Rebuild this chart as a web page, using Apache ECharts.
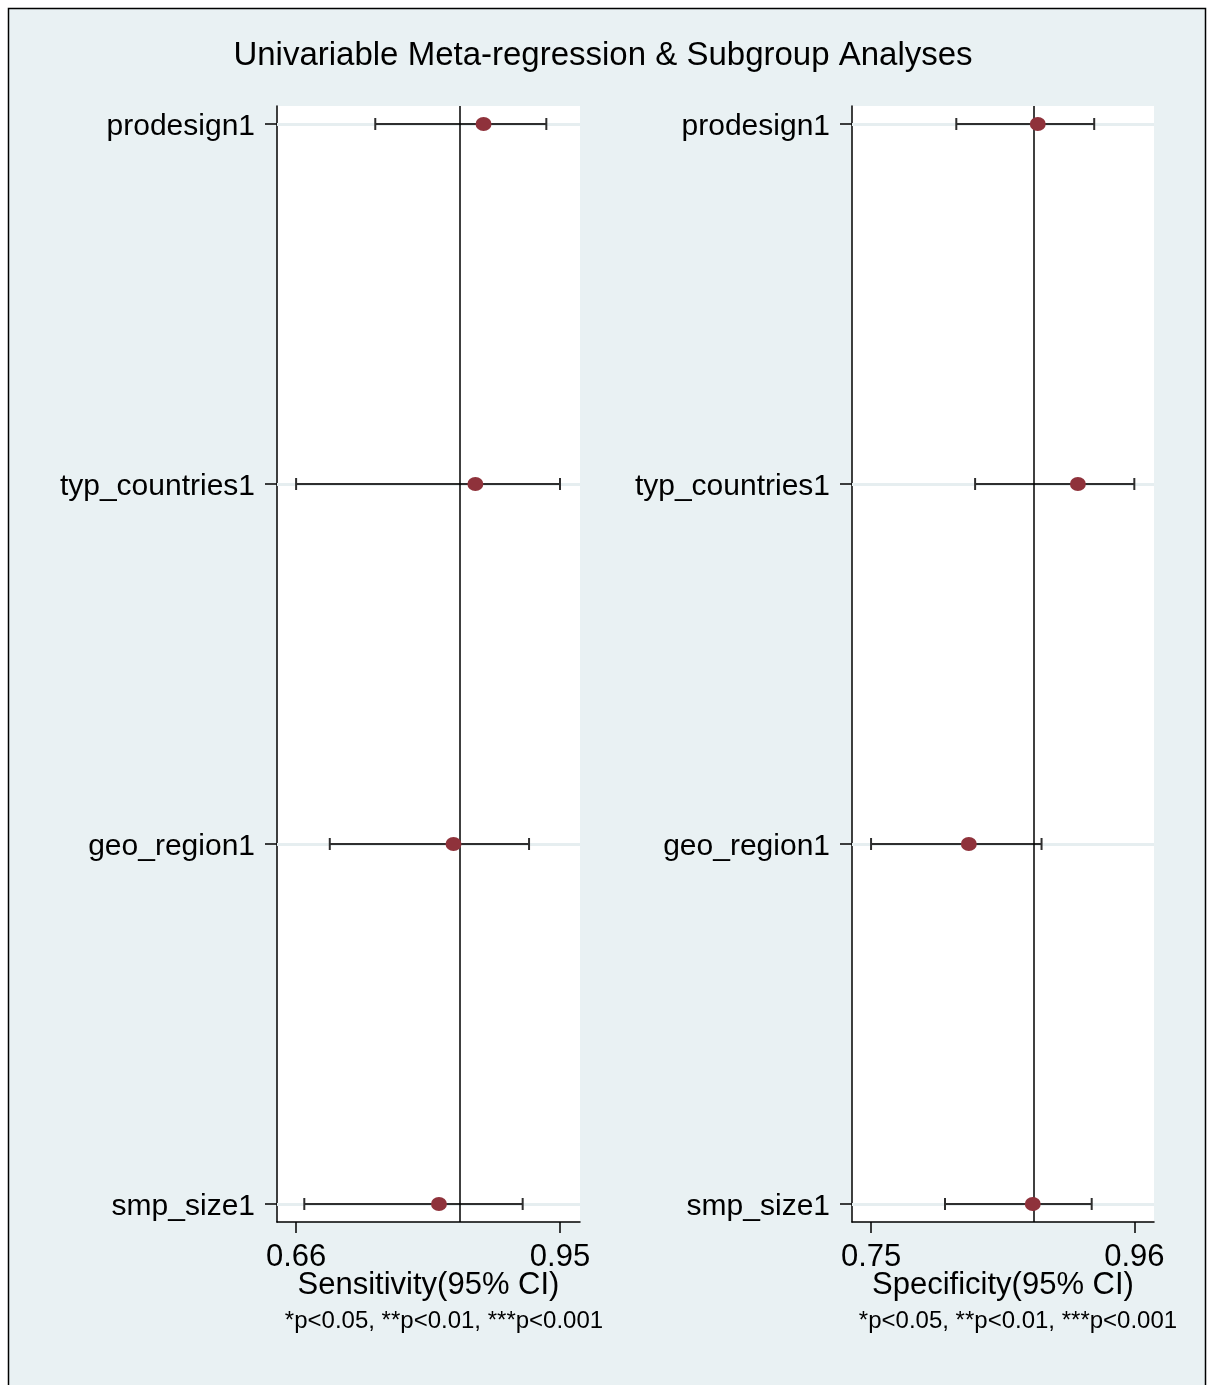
<!DOCTYPE html>
<html><head><meta charset="utf-8">
<script src="https://cdn.jsdelivr.net/npm/echarts@6/dist/echarts.min.js"></script>
<style>html,body{margin:0;padding:0;background:#fff}#c{width:1208px;height:1385px}</style>
</head><body><div id="c"></div>
<script>
const categories = ['prodesign1', 'typ_countries1', 'geo_region1', 'smp_size1'];
const sensPoint = [0.866, 0.857, 0.833, 0.817];
const sensLower = [0.747, 0.660, 0.697, 0.669];
const sensUpper = [0.935, 0.950, 0.916, 0.909];
const sensRef = 0.84;
const specPoint = [0.883, 0.915, 0.828, 0.879];
const specLower = [0.818, 0.833, 0.750, 0.809];
const specUpper = [0.928, 0.960, 0.886, 0.926];
const specRef = 0.88;
const sensTicks = [0.66, 0.95];
const specTicks = [0.75, 0.96];
const sensRange = [0.639, 0.972];
const specRange = [0.7348, 0.9757];
const titleText = 'Univariable Meta-regression & Subgroup Analyses';
const sensName = 'Sensitivity(95% CI)';
const specName = 'Specificity(95% CI)';
const footnote = '*p<0.05, **p<0.01, ***p<0.001';

const FONT = '"Liberation Sans", Arial, sans-serif';
const rows = categories.map((_, i) => i);

function xAxisOf(gi, range, ticks, name) {
  return {
    type: 'value', gridIndex: gi, min: range[0], max: range[1],
    axisLine: { show: true, onZero: false, lineStyle: { color: '#000', width: 1.5 } },
    axisTick: { show: true, customValues: ticks, length: 11, lineStyle: { color: '#000', width: 1.5 } },
    axisLabel: { customValues: ticks, formatter: v => v.toFixed(2), color: '#000', fontSize: 31, fontFamily: FONT, margin: 20 },
    splitLine: { show: false },
    name: name, nameLocation: 'middle', nameGap: 48, nameMoveOverlap: false,
    nameTextStyle: { color: '#000', fontSize: 31, fontFamily: FONT }
  };
}
function yAxisOf(gi) {
  return {
    type: 'value', gridIndex: gi, inverse: true, min: -0.05, max: 3.05,
    axisLine: { show: true, onZero: false, lineStyle: { color: '#000', width: 1.5 } },
    axisTick: { show: true, customValues: rows, length: 12, lineStyle: { color: '#000', width: 1.5 } },
    axisLabel: {
      customValues: rows, margin: 22,
      formatter: v => '{c|' + categories[Math.round(v)] + '}',
      rich: { c: { color: '#000', fontSize: 30, fontFamily: FONT, padding: [6, 0, 0, 0] } }
    },
    splitLine: { show: false }
  };
}
function seriesOf(gi, point, lower, upper, ref) {
  return [
    {
      type: 'custom', xAxisIndex: gi, yAxisIndex: gi, z: 3,
      data: rows.map(i => [i, lower[i], upper[i]]),
      renderItem: function (params, api) {
        const y = api.value(0);
        const a = api.coord([api.value(1), y]);
        const b = api.coord([api.value(2), y]);
        const h = 6;
        const st = { stroke: '#2e2e2e', lineWidth: 2 };
        return { type: 'group', children: [
          { type: 'line', shape: { x1: a[0], y1: a[1], x2: b[0], y2: b[1] }, style: st },
          { type: 'line', shape: { x1: a[0], y1: a[1] - h, x2: a[0], y2: a[1] + h }, style: st },
          { type: 'line', shape: { x1: b[0], y1: b[1] - h, x2: b[0], y2: b[1] + h }, style: st }
        ] };
      },
      markLine: {
        silent: true, symbol: 'none', label: { show: false }, z: 1,
        lineStyle: { color: '#e6eef0', width: 3, type: 'solid' },
        data: rows.map(i => ({ yAxis: i }))
      }
    },
    {
      type: 'scatter', xAxisIndex: gi, yAxisIndex: gi, z: 5,
      symbol: 'circle', symbolSize: [16, 14],
      itemStyle: { color: '#8f323b', opacity: 1 },
      data: rows.map(i => [point[i], i]),
      markLine: {
        silent: true, symbol: 'none', label: { show: false },
        lineStyle: { color: '#000', width: 1.5, type: 'solid' },
        data: [{ xAxis: ref }]
      }
    }
  ];
}

const chart = echarts.init(document.getElementById('c'));
chart.setOption({
  backgroundColor: '#fff',
  animation: false,
  graphic: [
    { type: 'rect', z: -10, shape: { x: 8.5, y: 8.5, width: 1197, height: 1400 }, style: { fill: '#e9f1f3', stroke: '#000', lineWidth: 1.5 } },
    { type: 'text', x: 603, y: 56, style: { text: titleText, fontSize: 33, fontFamily: FONT, fill: '#000', textAlign: 'center', textVerticalAlign: 'middle' } },
    { type: 'text', x: 444, y: 1321, style: { text: footnote, fontSize: 24, fontFamily: FONT, fill: '#000', textAlign: 'center', textVerticalAlign: 'middle' } },
    { type: 'text', x: 1018, y: 1321, style: { text: footnote, fontSize: 24, fontFamily: FONT, fill: '#000', textAlign: 'center', textVerticalAlign: 'middle' } }
  ],
  grid: [
    { left: 277, top: 106, width: 303, height: 1116, show: true, backgroundColor: '#fff', borderWidth: 0 },
    { left: 852, top: 106, width: 302, height: 1116, show: true, backgroundColor: '#fff', borderWidth: 0 }
  ],
  xAxis: [xAxisOf(0, sensRange, sensTicks, sensName), xAxisOf(1, specRange, specTicks, specName)],
  yAxis: [yAxisOf(0), yAxisOf(1)],
  series: [].concat(seriesOf(0, sensPoint, sensLower, sensUpper, sensRef), seriesOf(1, specPoint, specLower, specUpper, specRef))
});
</script>
</body></html>
